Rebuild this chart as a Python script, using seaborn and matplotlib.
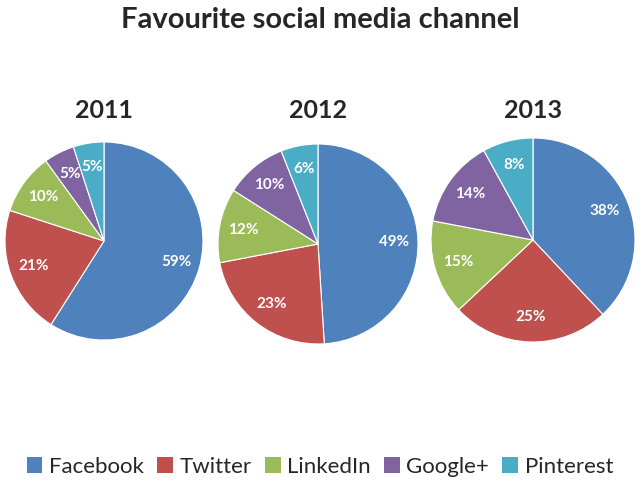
import matplotlib
matplotlib.use("Agg")
import matplotlib.pyplot as plt
from matplotlib.patches import Patch
import seaborn as sns

# data
channels = ["Facebook", "Twitter", "LinkedIn", "Google+", "Pinterest"]
years = ["2011", "2012", "2013"]
share_2011 = [59, 21, 10, 5, 5]
share_2012 = [49, 23, 12, 10, 6]
share_2013 = [38, 25, 15, 14, 8]
shares = [share_2011, share_2012, share_2013]

colors = sns.color_palette(["#4F81BD", "#C0504D", "#9BBB59", "#8064A2", "#4BACC6"])

sns.set_theme(style="white")
plt.rcParams["font.family"] = ["Lato", "DejaVu Sans"]

W, H = 640, 483
fig = plt.figure(figsize=(W / 100, H / 100), dpi=100)

# pie centres / radii in pixels (x, y from top, r)
pies = [(104, 241, 99), (318, 244, 100), (533, 240, 102)]

for (cx, cy, r), year, vals in zip(pies, years, shares):
    ax = fig.add_axes([(cx - r) / W, (H - cy - r) / H, 2 * r / W, 2 * r / H])
    wedges, texts = ax.pie(vals, colors=colors, startangle=90, counterclock=False,
                           labels=[f"{v}%" for v in vals], labeldistance=0.76,
                           wedgeprops=dict(edgecolor="white", linewidth=0.8))
    for t in texts:
        t.set_color("white")
        t.set_fontweight("bold")
        t.set_fontsize(11)
        t.set_ha("center")
        t.set_va("center")
    ax.set_aspect("equal")
    ax.set_xlim(-1, 1)
    ax.set_ylim(-1, 1)
    ax.axis("off")
    fig.text(cx / W, 1 - 110 / H, year, ha="center", va="center",
             fontsize=18, fontweight="bold")

fig.text(0.5, 1 - 20 / H, "Favourite social media channel", ha="center", va="center",
         fontsize=21, fontweight="bold")

handles = [Patch(facecolor=c, edgecolor="none") for c in colors]
fig.legend(handles, channels, loc="center", bbox_to_anchor=(0.5, 1 - 467 / H),
           ncol=5, frameon=False, fontsize=16, handlelength=0.7, handleheight=0.7,
           handletextpad=0.3, columnspacing=0.6)

fig.savefig("out.png", dpi=100, facecolor="white")
